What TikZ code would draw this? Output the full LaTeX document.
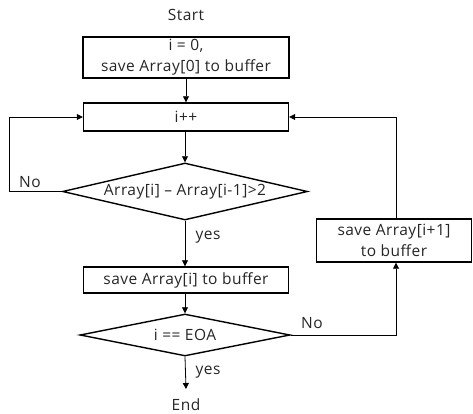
\documentclass[tikz,border=0pt]{standalone}
\usepackage{fontspec}
\setmainfont[LetterSpace=3]{Open Sans}
\usetikzlibrary{shapes.geometric,arrows.meta}
\begin{document}
\begin{tikzpicture}[x=1pt,y=-1pt,
  every node/.style={font=\fontsize{15.5}{21}\selectfont, text=black!85},
  box/.style={draw, line width=1.4pt, rectangle, inner sep=0pt, align=center},
  dia/.style={draw, line width=1.4pt, diamond, inner sep=0pt, aspect=4},
  conn/.style={line width=0.8pt, -{Triangle[length=6pt,width=6pt]}},
  lab/.style={inner sep=0pt}]
\useasboundingbox (0,0) rectangle (473,414);
\node[lab] (start) at (186,15) {Start};
\node[box, minimum width=206pt, minimum height=41pt] (b1) at (186,57.5) {i = 0,\\save Array[0] to buffer};
\node[box, minimum width=205pt, minimum height=28pt] (b2) at (186,117) {i++};
\node[dia, minimum width=245pt, minimum height=57pt] (d1) at (185,191.5) {Array[i] – Array[i-1]>2};
\node[box, minimum width=205pt, minimum height=26pt] (b3) at (186,280) {save Array[i] to buffer};
\node[dia, minimum width=210pt, minimum height=42pt] (d2) at (185,335) {i == EOA};
\node[box, minimum width=155pt, minimum height=43pt] (b4) at (394,240.5) {save Array[i+1]\\to buffer};
\node[lab] (end) at (186,405) {End};
\coordinate (endtip) at (186,389);
\coordinate (lc1) at (9,191.5);
\coordinate (lc2) at (9,117);
\coordinate (rc1) at (396,335);
\coordinate (rc2) at (396,117);
\draw[conn] (b1.south) -- (b2.north);
\draw[conn] (b2.south -| d1.north) -- (d1.north);
\draw[conn] (d1.south) -- (b3.north -| d1.south);
\draw[conn] (b3.south -| d2.north) -- (d2.north);
\draw[conn] (d2.south) -- (endtip);
\draw[conn] (d1.west) -- (lc1) -- (lc2) -- (b2.west);
\draw[conn] (d2.east) -- (rc1) -- (b4.south -| rc1);
\draw[conn] (b4.north -| rc2) -- (rc2) -- (b2.east);
\node[lab] (no1) at (30,182) {No};
\node[lab] (yes1) at (208,237) {yes};
\node[lab] (no2) at (312,323) {No};
\node[lab] (yes2) at (208,372) {yes};
\end{tikzpicture}
\end{document}
